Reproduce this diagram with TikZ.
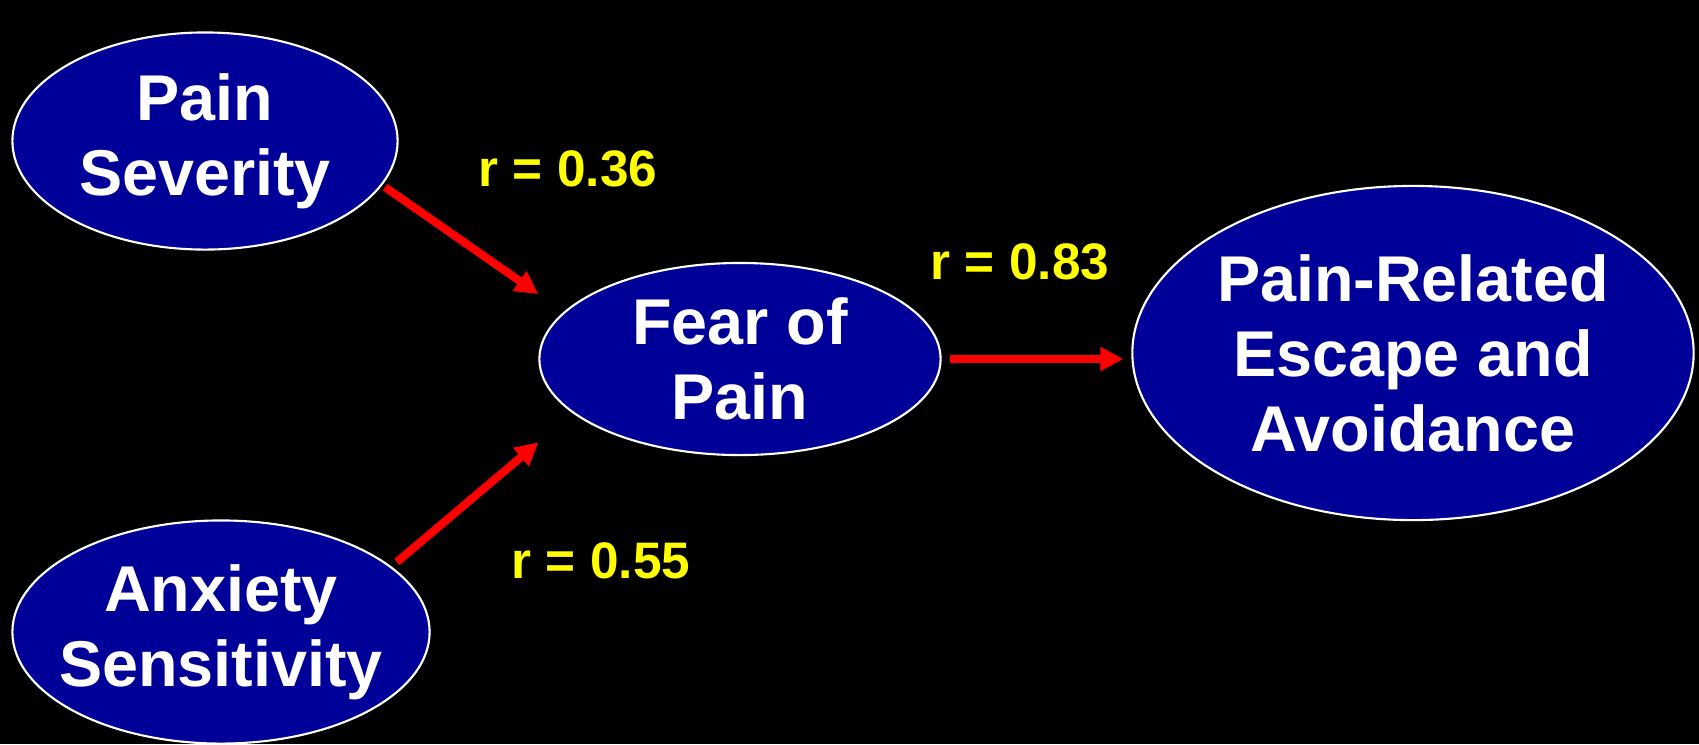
\documentclass[tikz,border=0pt]{standalone}
\usepackage{fontspec}
\setmainfont{Liberation Sans}
\usetikzlibrary{shapes.geometric, arrows.meta}
\definecolor{NodeBlue}{HTML}{000099}
\definecolor{LinkRed}{HTML}{FF0000}
\definecolor{CoefYellow}{HTML}{FFFF00}
\tikzset{
    factor/.style={ellipse, draw=white, line width=0.6pt, fill=NodeBlue, text=white, align=center, font=\bfseries\fontsize{18.4}{21.3}\selectfont, inner xsep=-1cm, inner ysep=-0.3cm},
    arr/.style={-{Triangle[length=6.5pt, width=6.5pt]}, line width=2.3pt, draw=LinkRed},
    coef/.style={text=CoefYellow, font=\bfseries\fontsize{14.6}{17}\selectfont, inner sep=0pt}
}

\begin{document}
\begin{tikzpicture}[x=0.01cm, y=-0.01cm]
    \path[use as bounding box, fill=black] (0,0) rectangle (1699,744);

    % Predictors (left)
    \node[factor, minimum width=3.85cm, minimum height=2.17cm] (sev) at (205,141) {Pain\\Severity};
    \node[factor, minimum width=4.17cm, minimum height=2.23cm] (anx) at (221,632) {Anxiety\\Sensitivity};

    % Mediator and outcome
    \node[factor, minimum width=4.01cm, minimum height=1.92cm] (fear) at (740,359) {Fear of\\Pain};
    \node[factor, minimum width=5.61cm, minimum height=3.34cm] (esc) at (1413,353) {Pain-Related\\Escape and\\Avoidance};

    \draw[arr, shorten <=1pt, shorten >=0.31cm] (sev.-14) -- (fear.165);
    \draw[arr, shorten <=0.07cm, shorten >=0.45cm] (anx.21) -- (fear.198);
    \draw[arr, shorten <=0.08cm, shorten >=0.08cm] (fear.east) -- (fear.east -| esc.west);

    % Coefficients
    \node[coef] (r1) at (568,169) {r = 0.36};
    \node[coef] (r2) at (1020,262) {r = 0.83};
    \node[coef] (r3) at (601,561) {r = 0.55};
\end{tikzpicture}
\end{document}
